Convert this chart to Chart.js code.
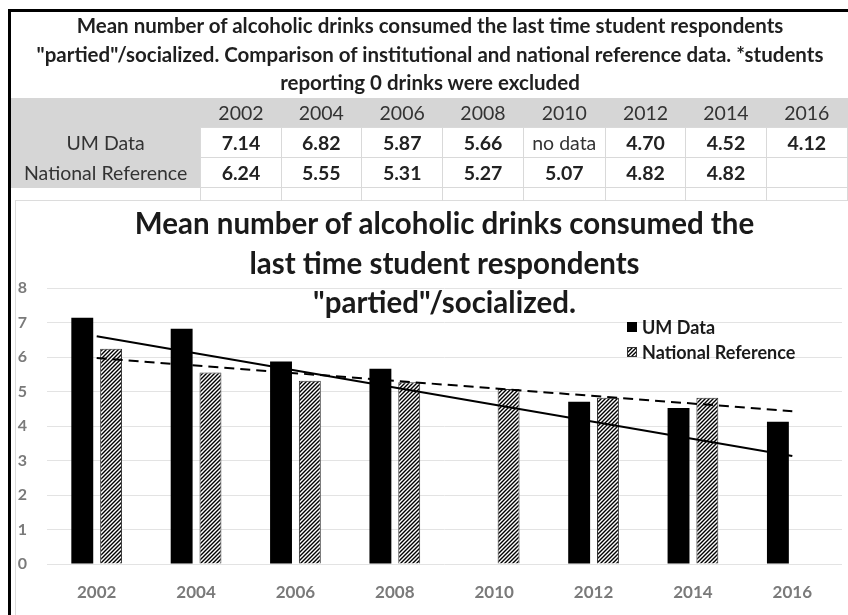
<!DOCTYPE html>
<html>
<head>
<meta charset="utf-8">
<script src="https://cdn.jsdelivr.net/npm/chart.js@4.4.1/dist/chart.umd.min.js"></script>
<style>
  body { margin: 0; background: #fff; font-family: Lato, "Open Sans", sans-serif; }
  #page { position: relative; width: 848px; height: 615px; overflow: hidden; background: #fff; }
  #frame { position: absolute; left: 8px; top: 9px; width: 900px; height: 700px; border-left: 3px solid #000; border-top: 3px solid #000; }
  #chart-box { position: absolute; left: 15px; top: 200px; width: 900px; height: 500px; border: 1px solid #dcdcdc; }
  #wrapper-canvas { position: absolute; left: 0; top: 0; width: 848px; height: 615px; }
  #table-title { position: absolute; left: 6px; top: 11px; width: 848px; text-align: center; font-weight: bold; font-size: 20.5px; line-height: 28.5px; color: #1f1f1f; white-space: nowrap; }
  #data-table { position: absolute; left: 11px; top: 98px; border-collapse: collapse; table-layout: fixed; font-size: 19.5px; color: #333; }
  #data-table td { padding: 0; text-align: center; height: 29px; white-space: nowrap; }
  #data-table tr.head td { background: #d6d6d6; }
  #data-table td.lab { background: #d6d6d6; }
  #data-table td.val { border: 1px solid #d9d9d9; font-weight: bold; color: #222; }
  #data-table td.val.nd { font-weight: normal; color: #333; }
  #data-table tr.empty td { height: 13px; }
  #data-table tr.empty td.val { border-bottom: none; }
  #chart-title { position: absolute; left: 0; top: 203px; width: 889px; text-align: center; font-weight: bold; font-size: 29.5px; line-height: 39.5px; color: #1a1a1a; white-space: nowrap; }
</style>
</head>
<body>
<div id="page">
  <div id="frame"></div>
  <div id="chart-box"></div>
  <div id="wrapper-canvas"><canvas id="myChart"></canvas></div>
  <div id="table-title">Mean number of alcoholic drinks consumed the last time student respondents<br>"partied"/socialized. Comparison of institutional and national reference data. *students<br>reporting 0 drinks were excluded</div>
  <table id="data-table"></table>
  <div id="chart-title">Mean number of alcoholic drinks consumed the<br>last time student respondents<br>"partied"/socialized.</div>
</div>
<script>
// DATA
const years = ['2002', '2004', '2006', '2008', '2010', '2012', '2014', '2016'];
const umData = [7.14, 6.82, 5.87, 5.66, null, 4.70, 4.52, 4.12];
const nrData = [6.24, 5.55, 5.31, 5.27, 5.07, 4.82, 4.82, null];
// trendline ends
const umTrend = [6.60, null, null, null, null, null, null, 3.13];
const nrTrend = [5.97, null, null, null, null, null, null, 4.43];
const yTicks = [0, 1, 2, 3, 4, 5, 6, 7, 8];

// TABLE
const table = document.getElementById('data-table');
const colW = [191, 82, 82, 83, 82, 83, 82, 82, 83];
const colgroup = document.createElement('colgroup');
colW.forEach(w => {
  const col = document.createElement('col');
  col.style.width = w + 'px';
  colgroup.appendChild(col);
});
table.appendChild(colgroup);

function addRow(cls, label, cells, fmt) {
  const tr = document.createElement('tr');
  if (cls) tr.className = cls;
  const th = document.createElement('td');
  th.className = label !== null ? 'lab' : 'val';
  th.textContent = label || '';
  if (label === null) th.style.border = 'none';
  tr.appendChild(th);
  cells.forEach(v => {
    const td = document.createElement('td');
    if (cls !== 'head') td.className = 'val';
    if (cls === 'head') td.textContent = v;
    else if (v === 'nd') { td.textContent = 'no data'; td.classList.add('nd'); }
    else td.textContent = v === null ? '' : fmt(v);
    tr.appendChild(td);
  });
  table.appendChild(tr);
}
const f2 = v => v.toFixed(2);
addRow('head', '', years, null);
addRow('', 'UM Data', umData.map(v => v === null ? 'nd' : v), f2);
addRow('', 'National Reference', nrData, f2);
addRow('empty', null, years.map(() => null), f2);

// HATCH
function makeHatch() {
  const c = document.createElement('canvas');
  c.width = 4; c.height = 4;
  const g = c.getContext('2d');
  g.fillStyle = '#fff';
  g.fillRect(0, 0, 4, 4);
  g.strokeStyle = '#000';
  g.lineWidth = 1.4;
  g.beginPath();
  g.moveTo(0, 4); g.lineTo(4, 0);
  g.moveTo(-1, 1); g.lineTo(1, -1);
  g.moveTo(3, 5); g.lineTo(5, 3);
  g.stroke();
  return g.createPattern(c, 'repeat');
}
const hatch = makeHatch();

// LEGEND (inside plot)
const legendInside = {
  id: 'legendInside',
  afterDraw(chart) {
    const ctx = chart.ctx;
    ctx.save();
    ctx.font = 'bold 18px Lato';
    ctx.textBaseline = 'middle';
    ctx.fillStyle = '#000';
    ctx.fillRect(627, 322, 10, 10);
    ctx.fillStyle = hatch;
    ctx.fillRect(627, 347, 10, 10);
    ctx.strokeStyle = '#333';
    ctx.lineWidth = 1;
    ctx.strokeRect(627.5, 347.5, 9, 9);
    ctx.fillStyle = '#1a1a1a';
    ctx.fillText('UM Data', 642, 328);
    ctx.fillText('National Reference', 642, 353);
    ctx.restore();
  }
};

const tickFont = { family: 'Lato', size: 17, weight: 'bold' };

new Chart(document.getElementById('myChart').getContext('2d'), {
  type: 'bar',
  data: {
    labels: years,
    datasets: [
      { type: 'line', label: 'UM trend', data: umTrend, borderColor: '#000', borderWidth: 2,
        pointRadius: 0, spanGaps: true, order: 0 },
      { type: 'line', label: 'National trend', data: nrTrend, borderColor: '#000', borderWidth: 2,
        borderDash: [10, 6], pointRadius: 0, spanGaps: true, order: 0 },
      { label: 'UM Data', data: umData, backgroundColor: '#000', order: 1,
        categoryPercentage: 0.58, barPercentage: 0.76 },
      { label: 'National Reference', data: nrData, backgroundColor: hatch, borderColor: '#333',
        borderWidth: 1, order: 1, categoryPercentage: 0.58, barPercentage: 0.76 }
    ]
  },
  options: {
    responsive: true,
    maintainAspectRatio: false,
    animation: false,
    layout: { padding: { left: 10, right: 6, top: 288, bottom: 0 } },
    plugins: { legend: { display: false }, tooltip: { enabled: false }, title: { display: false } },
    scales: {
      x: {
        grid: { display: false, drawTicks: false },
        border: { display: false },
        ticks: { padding: 18, color: '#7a7a7a', font: tickFont },
        afterFit: s => { s.height = 51; }
      },
      y: {
        min: yTicks[0],
        max: yTicks[yTicks.length - 1],
        afterBuildTicks: s => { s.ticks = yTicks.map(v => ({ value: v })); },
        ticks: { padding: 20, color: '#7a7a7a', font: { family: 'Lato', size: 16, weight: 'bold' } },
        grid: { color: '#e3e3e3', lineWidth: 1, drawTicks: false },
        border: { display: false },
        afterFit: s => { s.width = 37; }
      }
    }
  },
  plugins: [legendInside]
});
</script>
</body>
</html>
